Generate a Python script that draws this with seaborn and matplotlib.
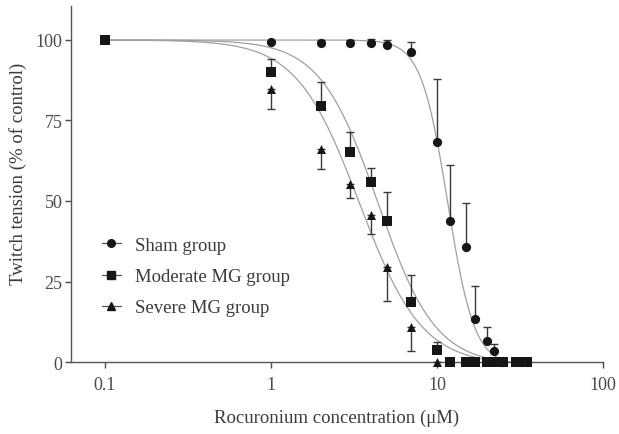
import numpy as np
import pandas as pd
import matplotlib
matplotlib.use("Agg")
import matplotlib.pyplot as plt
import seaborn as sns
from matplotlib.lines import Line2D

# ---- data ----
conc = [0.1, 1, 2, 3, 4, 5, 7, 10, 12, 15, 17, 20, 22, 25, 30, 32, 35]
sham = [100, 99.5, 99, 99, 99, 98.4, 96.4, 68.4, 43.7, 35.7, 13.3, 6.4, 3.5, 0, 0, 0, 0]
sham_err = [0, 0, 1, 1, 1.3, 1.7, 3.1, 19.6, 17.6, 13.8, 10.2, 4.4, 2.1, 0, 0, 0, 0]
moderate = [100, 90, 79.6, 65.3, 55.8, 43.9, 18.5, 3.6, 0, 0, 0, 0, 0, 0, 0, 0, 0]
moderate_err = [0, 4, 7.5, 6, 4.4, 8.8, 8.6, 2.7, 0, 0, 0, 0, 0, 0, 0, 0, 0]
severe = [100, 84.8, 66.1, 55.4, 45.7, 29.4, 10.8, 0, 0, 0, 0, 0, 0, 0, 0, 0, 0]
severe_err = [0, 6.2, 6.2, 4.5, 5.9, 10.4, 7.5, 0, 0, 0, 0, 0, 0, 0, 0, 0, 0]

groups = ["Sham group", "Moderate MG group", "Severe MG group"]
markers = ["o", "s", "^"]
# fitted curve parameters (IC50, Hill slope, bottom)
ic50 = [11.6, 4.4, 3.4]
hill = [5.4, 2.5, 2.3]
bottom = [-1.0, -1.0, -1.0]

sns.set_theme(style="ticks")
plt.rcParams["font.family"] = ["Liberation Serif", "DejaVu Serif"]
plt.rcParams["text.color"] = "#3a3a3a"
plt.rcParams["axes.labelcolor"] = "#3a3a3a"
plt.rcParams["xtick.color"] = "#4a4a4a"
plt.rcParams["ytick.color"] = "#4a4a4a"

fig = plt.figure(figsize=(6.19, 4.35), dpi=100)
ax = fig.add_axes([0.1147, 0.1655, 0.8595, 0.818])

# fitted curves
xs = np.logspace(-1, np.log10(35), 400)
curve_rows = []
for g, c, n, b in zip(groups, ic50, hill, bottom):
    ys = b + (100 - b) / (1 + (xs / c) ** n)
    curve_rows.append(pd.DataFrame({"x": xs, "y": ys, "group": g}))
curves = pd.concat(curve_rows)
sns.lineplot(data=curves, x="x", y="y", units="group", estimator=None,
             color="#a0a0a0", linewidth=0.9, ax=ax, legend=False, zorder=2)

mk = "#161616"
ec = "#3a3a3a"
# sham: upward error bars
ax.errorbar(conc, sham, yerr=[np.zeros(len(sham_err)), sham_err], fmt="none",
            ecolor=ec, elinewidth=1.0, capsize=2.8, capthick=1.0, zorder=3)
# severe: downward error bars
ax.errorbar(conc, severe, yerr=[severe_err, np.zeros(len(severe_err))], fmt="none",
            ecolor=ec, elinewidth=1.0, capsize=2.8, capthick=1.0, zorder=3)
# moderate: upward error bars
ax.errorbar(conc, moderate, yerr=[np.zeros(len(moderate_err)), moderate_err], fmt="none",
            ecolor=ec, elinewidth=1.0, capsize=2.8, capthick=1.0, zorder=3)

pts = pd.DataFrame({
    "x": conc * 3,
    "y": sham + severe + moderate,
    "group": ["Sham group"] * len(conc) + ["Severe MG group"] * len(conc) + ["Moderate MG group"] * len(conc),
})
for g, m, sz in [("Sham group", "o", 44), ("Severe MG group", "^", 42), ("Moderate MG group", "s", 42)]:
    sub = pts[pts.group == g]
    sns.scatterplot(data=sub, x="x", y="y", marker=m, s=sz, color=mk,
                    edgecolor=mk, linewidth=0, ax=ax, legend=False, zorder=4, clip_on=False)

ax.set_xscale("log")
ax.set_xlim(0.0624, 100)
ax.set_ylim(0, 110.5)
ax.set_xticks([0.1, 1, 10, 100])
ax.set_xticklabels(["0.1", "1", "10", "100"])
ax.xaxis.set_minor_locator(matplotlib.ticker.NullLocator())
ax.set_yticks([0, 25, 50, 75, 100])
ax.tick_params(axis="both", labelsize=13, length=4, width=1, direction="out", pad=2)
ax.tick_params(axis="x", pad=6)

for s in ["top", "right"]:
    ax.spines[s].set_visible(False)
for s in ["left", "bottom"]:
    ax.spines[s].set_color("#555555")
    ax.spines[s].set_linewidth(1.0)

ax.set_xlabel("Rocuronium concentration (\u03bcM)", fontsize=13.5, labelpad=11.5)
ax.set_ylabel("Twitch tension (% of control)", fontsize=13.5)
ax.yaxis.set_label_coords(-0.0827, 0.531)

handles = [Line2D([0], [0], color="#555555", lw=0.9, marker=m, markersize=5.5,
                  markerfacecolor=mk, markeredgecolor=mk) for m in markers]
leg = ax.legend(handles, groups, loc="center left", bbox_to_anchor=(0.058, 0.24),
                frameon=False, fontsize=13.5, handlelength=1.0, handletextpad=0.75,
                labelspacing=0.75, borderpad=0, borderaxespad=0)
for t in leg.get_texts():
    t.set_color("#3a3a3a")

fig.savefig("out.png", dpi=100)
